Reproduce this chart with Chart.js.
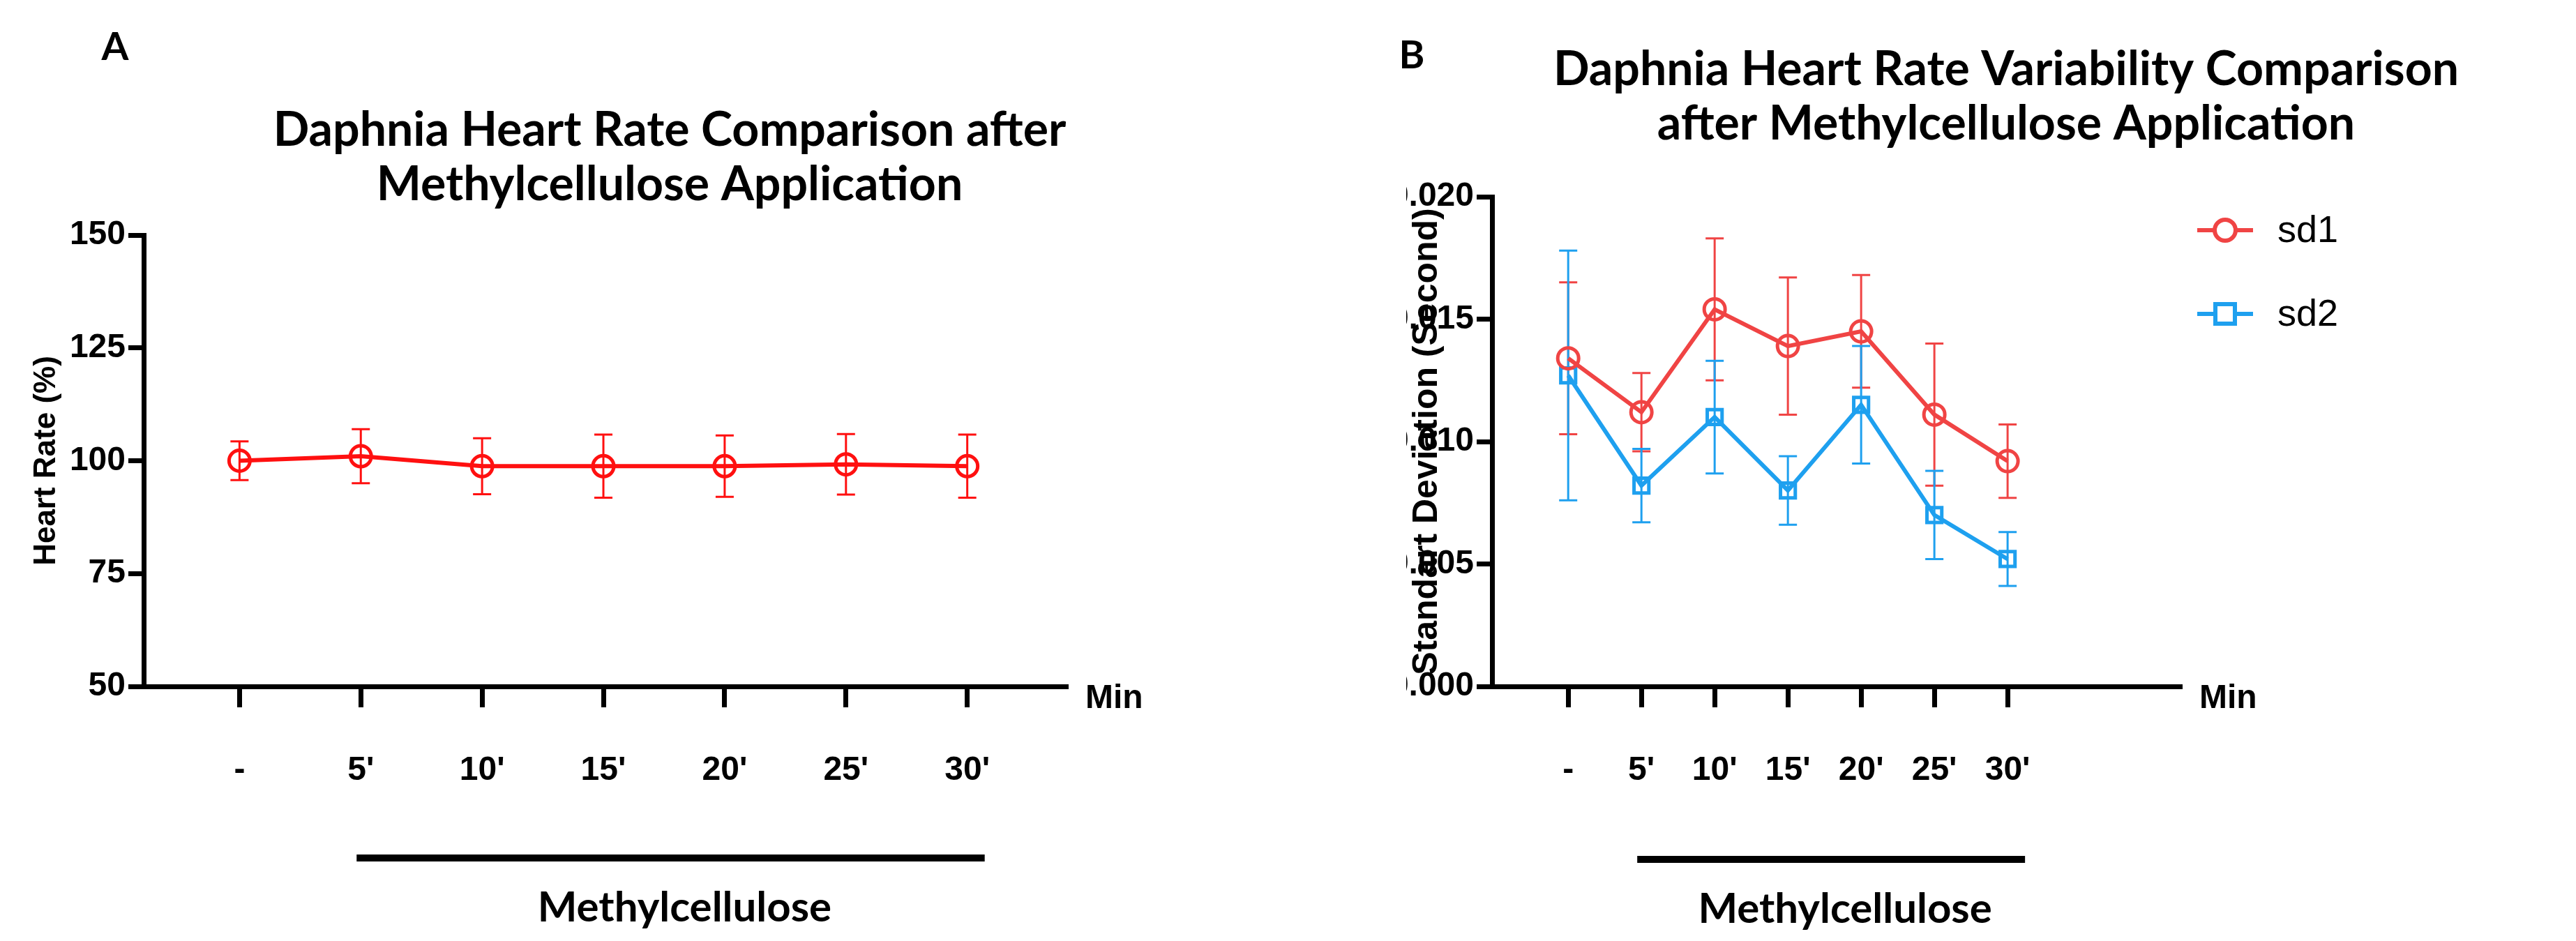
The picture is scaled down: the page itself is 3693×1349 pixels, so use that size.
<!DOCTYPE html>
<html><head><meta charset="utf-8">
<script src="https://cdn.jsdelivr.net/npm/chart.js@4.4.1/dist/chart.umd.min.js"></script>
<style>
html,body{margin:0;padding:0;background:#fff;}
#wrap{position:relative;width:3693px;height:1349px;}
canvas{position:absolute;top:0;}
</style></head><body>
<div id="wrap">
<canvas id="chartA" style="left:0"></canvas>
<canvas id="chartB" style="left:1846px"></canvas>
</div>
<script>
const categories = ['-', "5'", "10'", "15'", "20'", "25'", "30'"];
const heartRate = [100, 101, 98.8, 98.8, 98.8, 99.2, 98.8];
const heartRateErr = [4.3, 6, 6.2, 7, 6.8, 6.7, 7];
const sd1 = [0.0134, 0.0112, 0.0154, 0.0139, 0.0145, 0.0111, 0.0092];
const sd1Err = [0.0031, 0.0016, 0.0029, 0.0028, 0.0023, 0.0029, 0.0015];
const sd2 = [0.0127, 0.0082, 0.0110, 0.0080, 0.0115, 0.0070, 0.0052];
const sd2Err = [0.0051, 0.0015, 0.0023, 0.0014, 0.0024, 0.0018, 0.0011];
const ticksA = [50, 75, 100, 125, 150];
const ticksB = [0, 0.005, 0.01, 0.015, 0.02];

const titleFont = 'bold 68px Lato, "Open Sans", sans-serif';
const tickFont = { family: '"Liberation Sans Narrow", "Liberation Sans", Arial', size: 48, weight: 'bold' };

// draws error bars, titles, panel letter, Min label, legend and the treatment bar
const extras = {
  id: 'extras',
  beforeDatasetsDraw(chart) {
    const { ctx } = chart;
    const x = chart.scales.x, y = chart.scales.y;
    chart.data.datasets.forEach((ds) => {
      ctx.save();
      ctx.strokeStyle = ds.borderColor;
      ctx.lineWidth = 3;
      ds.data.forEach((p, i) => {
        const px = x.getPixelForValue(p.x);
        const top = y.getPixelForValue(p.y + ds.err[i]);
        const bot = y.getPixelForValue(p.y - ds.err[i]);
        ctx.beginPath();
        ctx.moveTo(px, top); ctx.lineTo(px, bot);
        ctx.moveTo(px - 13, top); ctx.lineTo(px + 13, top);
        ctx.moveTo(px - 13, bot); ctx.lineTo(px + 13, bot);
        ctx.stroke();
      });
      ctx.restore();
    });
  },
  afterDraw(chart) {
    const o = chart.options.plugins.extras;
    const { ctx } = chart;
    const x = chart.scales.x;
    ctx.save();
    ctx.fillStyle = '#000';
    ctx.textAlign = 'center';
    ctx.textBaseline = 'middle';
    ctx.font = titleFont;
    o.title.forEach((t, i) => ctx.fillText(t, o.titleX, o.titleY[i]));
    ctx.font = 'bold 56px Lato, sans-serif';
    ctx.fillText(o.letter, o.letterPos[0], o.letterPos[1]);
    ctx.font = 'bold 48px "Liberation Sans Narrow", "Liberation Sans"';
    ctx.textAlign = 'left';
    ctx.fillText('Min', chart.chartArea.right + 25, chart.chartArea.bottom + 18);
    const x1 = x.getPixelForValue(1) - 6, x2 = x.getPixelForValue(6) + 25;
    ctx.fillRect(x1, o.barY - 5, x2 - x1, 10);
    ctx.textAlign = 'center';
    ctx.font = 'bold 60px Lato, sans-serif';
    ctx.fillText('Methylcellulose', (x1 + x2) / 2 + 20, o.barY + 72);
    if (o.legend) {
      ctx.font = '54px "Liberation Sans Narrow", "Liberation Sans"';
      ctx.textAlign = 'left';
      chart.data.datasets.forEach((ds, i) => {
        const ly = o.legend[1] + i * 120;
        ctx.strokeStyle = ds.borderColor;
        ctx.lineWidth = 6;
        ctx.beginPath();
        ctx.moveTo(o.legend[0], ly); ctx.lineTo(o.legend[0] + 80, ly);
        ctx.stroke();
        ctx.fillStyle = '#fff';
        ctx.beginPath();
        if (ds.pointStyle === 'rect') ctx.rect(o.legend[0] + 26, ly - 14, 28, 28);
        else ctx.arc(o.legend[0] + 40, ly, 15, 0, Math.PI * 2);
        ctx.fill(); ctx.stroke();
        ctx.fillStyle = '#000';
        ctx.fillText(ds.label, o.legend[0] + 115, ly + 2);
      });
    }
    ctx.restore();
  },
};

function makeChart(id, width, cfg) {
  const canvas = document.getElementById(id);
  canvas.width = width; canvas.height = 1349;
  canvas.style.width = width + 'px'; canvas.style.height = '1349px';
  return new Chart(canvas, {
    type: 'line',
    data: { datasets: cfg.datasets },
    options: {
      responsive: false,
      animation: false,
      devicePixelRatio: 1,
      layout: { padding: { left: cfg.padLeft, top: cfg.area.top, right: width - cfg.area.right, bottom: 0 } },
      plugins: { legend: { display: false }, tooltip: { enabled: false }, extras: cfg.extras },
      scales: {
        x: {
          type: 'linear', min: cfg.xmin, max: cfg.xmax,
          afterBuildTicks: (s) => { s.ticks = categories.map((_, i) => ({ value: i })); },
          afterFit: (s) => { s.height = 1349 - cfg.area.bottom; },
          ticks: { callback: (v) => categories[v], font: tickFont, color: '#000', padding: 62, maxRotation: 0, autoSkip: false },
          grid: { drawOnChartArea: false, tickLength: 30, tickWidth: 7, tickColor: '#000' },
          border: { color: '#000', width: 7 },
        },
        y: {
          min: cfg.ymin, max: cfg.ymax,
          afterBuildTicks: (s) => { s.ticks = cfg.yticks.map((v) => ({ value: v })); },
          afterFit: (s) => { s.width = cfg.area.left - cfg.padLeft; },
          ticks: { callback: cfg.yfmt, font: tickFont, color: '#000', padding: 4 },
          grid: { drawOnChartArea: false, tickLength: 22, tickWidth: 7, tickColor: '#000' },
          border: { color: '#000', width: 7 },
          title: { display: true, text: cfg.ytitle, font: { family: '"Liberation Sans", Arial', size: cfg.ytitleSize, weight: 'bold' }, color: '#000', padding: 0 },
        },
      },
    },
    plugins: [extras],
  });
}

function series(label, values, err, color, style) {
  return { label, data: values.map((v, i) => ({ x: i, y: v })), err, borderColor: color, backgroundColor: 'rgba(255,255,255,0)', borderWidth: 6,
    pointStyle: style, pointRadius: 15, pointBorderWidth: 5, pointBackgroundColor: 'rgba(255,255,255,0)', tension: 0 };
}

makeChart('chartA', 1846, {
  datasets: [series('Heart Rate', heartRate, heartRateErr, '#ff1010', 'circle')],
  area: { left: 206, top: 337, right: 1531, bottom: 984 }, padLeft: 40,
  xmin: -0.79, xmax: 6.83, ymin: 50, ymax: 150, yticks: ticksA,
  yfmt: (v) => v, ytitle: 'Heart Rate (%)', ytitleSize: 44,
  extras: { title: ['Daphnia Heart Rate Comparison after', 'Methylcellulose Application'], titleX: 960, titleY: [187, 265],
    letter: 'A', letterPos: [165, 68], barY: 1230 },
});

makeChart('chartB', 1847, {
  datasets: [series('sd1', sd1, sd1Err, '#f04444', 'circle'), series('sd2', sd2, sd2Err, '#1ea0ef', 'rect')],
  area: { left: 293, top: 282, right: 1282, bottom: 984 }, padLeft: 170,
  xmin: -1.04, xmax: 8.38, ymin: 0, ymax: 0.02, yticks: ticksB,
  yfmt: (v) => v.toFixed(3), ytitle: 'Standart Deviation (Second)', ytitleSize: 50,
  extras: { title: ['Daphnia Heart Rate Variability Comparison', 'after Methylcellulose Application'], titleX: 1030, titleY: [100, 178],
    letter: 'B', letterPos: [178, 80], barY: 1232, legend: [1304, 330] },
});
</script>
</body></html>
